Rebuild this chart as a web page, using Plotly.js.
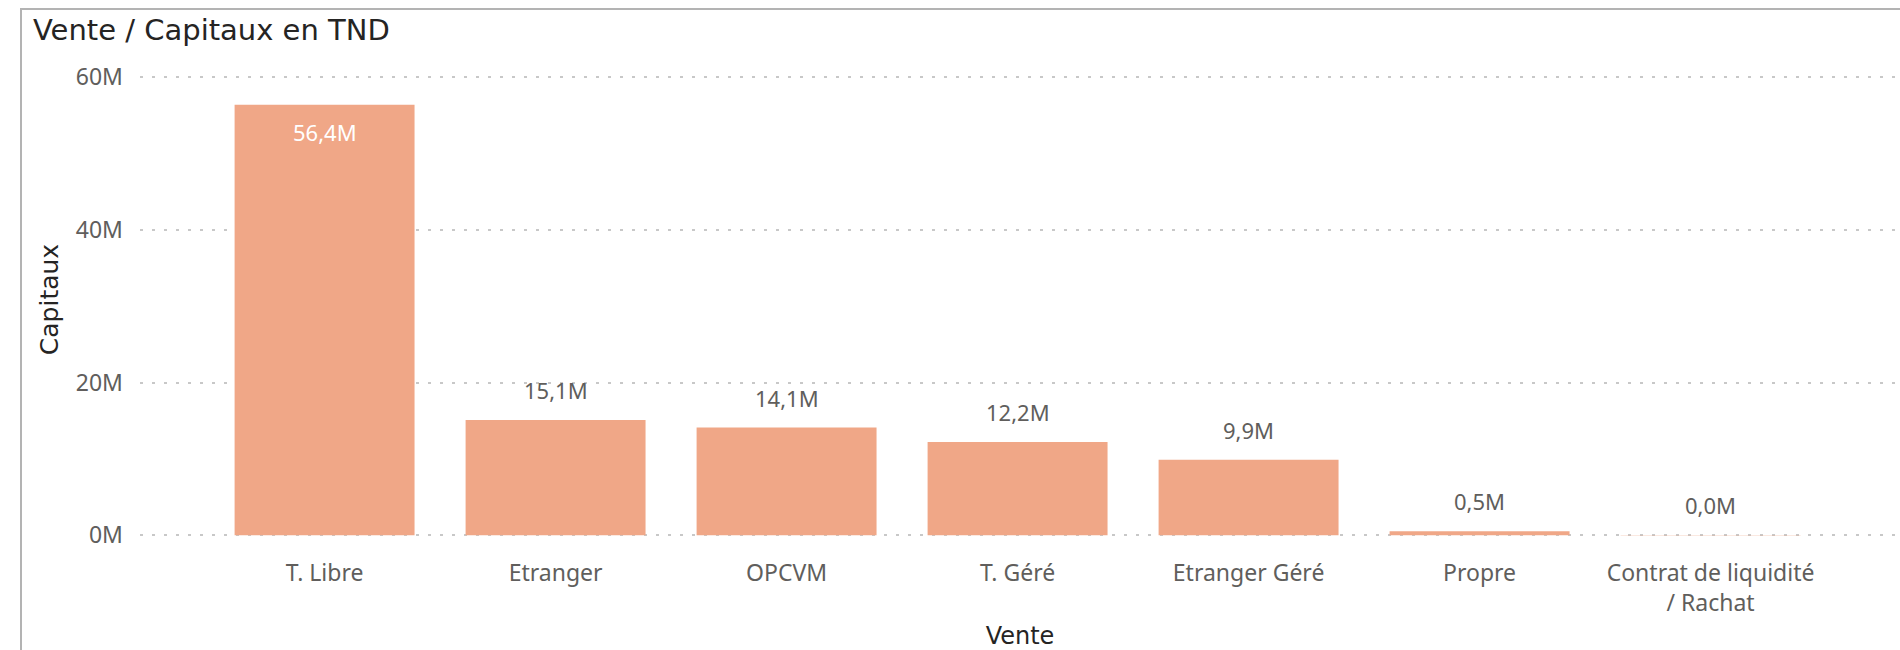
<!DOCTYPE html>
<html>
<head>
<meta charset="utf-8">
<script src="https://cdn.plot.ly/plotly-3.0.1.min.js"></script>
<style>
  html, body { margin: 0; padding: 0; background: #ffffff; }
  #wrap { position: relative; width: 1900px; height: 650px; overflow: hidden; }
  #chart { position: absolute; left: 0; top: 0; width: 1900px; height: 650px; }
  #frame { position: absolute; left: 20px; top: 8px; width: 1900px; height: 660px;
           border-left: 2px solid #b3b3b3; border-top: 2px solid #b3b3b3; pointer-events: none; }
</style>
</head>
<body>
<div id="wrap">
  <div id="chart"></div>
  <div id="frame"></div>
</div>
<script>
// Data (values in millions of TND)
const categories = ["T. Libre", "Etranger", "OPCVM", "T. Géré", "Etranger Géré", "Propre", "Contrat de liquidité<br>/ Rachat"];
const capitaux = [56.4, 15.1, 14.1, 12.2, 9.9, 0.5, 0.04];
const labelInside = [true, false, false, false, false, false, false];
const yTicks = [0, 20, 40, 60];
const yTickText = yTicks.map(v => v + "M");

function fmt(v) { return v.toFixed(1).replace(".", ",") + "M"; }

const trace = {
  type: "bar",
  x: categories,
  y: capitaux,
  marker: { color: "#F0A787" },
  hoverinfo: "none"
};

const annotations = categories.map((c, i) => ({
  x: c,
  y: capitaux[i],
  xref: "x", yref: "y",
  text: fmt(capitaux[i]),
  showarrow: false,
  xanchor: "center",
  yanchor: labelInside[i] ? "top" : "bottom",
  yshift: labelInside[i] ? -10 : 13,
  font: { family: "Noto Sans", size: 22, color: labelInside[i] ? "#ffffff" : "#605E5C" }
}));

const layout = {
  width: 1900,
  height: 650,
  paper_bgcolor: "#ffffff",
  plot_bgcolor: "#ffffff",
  margin: { l: 140, r: 0, t: 60, b: 111 },
  showlegend: false,
  bargap: 0.221,
  annotations: annotations,
  title: {
    text: "Vente / Capitaux en TND",
    font: { family: "DejaVu Sans", size: 29, color: "#252423" },
    xref: "container", yref: "container",
    x: 33 / 1900, xanchor: "left",
    y: 1 - 30 / 650, yanchor: "middle"
  },
  xaxis: {
    type: "category",
    range: [-0.799, 6.820],
    showgrid: false,
    zeroline: false,
    showline: false,
    ticks: "",
    ticklabelstandoff: 18,
    tickfont: { family: "Noto Sans", size: 23, color: "#605E5C" },
    title: {
      text: "Vente",
      font: { family: "DejaVu Sans", size: 24, color: "#252423" },
      standoff: 12
    },
    automargin: false
  },
  yaxis: {
    range: [-0.5, 62.27],
    tickmode: "array",
    tickvals: yTicks,
    ticktext: yTickText,
    showgrid: true,
    gridcolor: "#c8c8c8",
    gridwidth: 2,
    griddash: "3px,9px",
    zeroline: false,
    showline: false,
    ticks: "",
    ticklabelstandoff: 16,
    tickfont: { family: "Noto Sans", size: 23, color: "#605E5C" },
    title: {
      text: "Capitaux",
      font: { family: "DejaVu Sans", size: 25, color: "#252423" },
      standoff: 10
    },
    automargin: false
  }
};

Plotly.newPlot("chart", [trace], layout, { staticPlot: true, displayModeBar: false });
</script>
</body>
</html>
